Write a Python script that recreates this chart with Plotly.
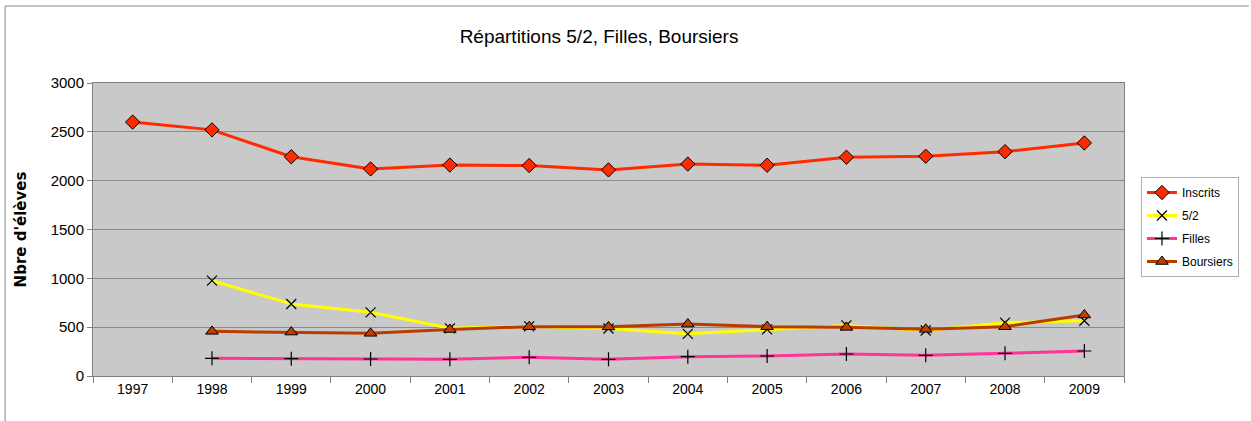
import plotly.graph_objects as go

years = ["1997", "1998", "1999", "2000", "2001", "2002", "2003", "2004", "2005", "2006", "2007", "2008", "2009"]
inscrits = [2600, 2520, 2245, 2120, 2160, 2155, 2110, 2170, 2158, 2240, 2250, 2297, 2386]
cinq_demi = [None, 976, 737, 652, 488, 508, 486, 432, 478, 518, 466, 546, 566]
filles = [None, 181, 177, 174, 171, 191, 171, 198, 205, 225, 212, 232, 256]
boursiers = [None, 457, 450, 437, 476, 505, 503, 532, 505, 498, 478, 505, 625]

FONT = "Liberation Sans"

# body margin is removed by post_script, so the figure starts at the window origin
OX, OY = 0, 0
W, H = 1251, 421
# desired plot area in window pixels
L, R, T, B = 93, 1126, 83, 376


def px(x):
    return (x - L) / (R - L)


def py(y):
    return (B - y) / (B - T)


fig = go.Figure()
fig.add_trace(go.Scatter(x=years, y=inscrits, name="Inscrits", mode="lines+markers",
                         legendgroup="a",
                         line=dict(color="#ff2a00", width=3),
                         marker=dict(symbol="diamond", size=11, color="#ff2a00",
                                     line=dict(color="black", width=1))))
fig.add_trace(go.Scatter(x=years, y=cinq_demi, name="5/2", mode="lines+markers",
                         legendgroup="b",
                         line=dict(color="#ffff00", width=3),
                         marker=dict(symbol="x-thin", size=10, color="black",
                                     line=dict(color="black", width=1.2))))
fig.add_trace(go.Scatter(x=years, y=filles, name="Filles", mode="lines+markers",
                         legendgroup="c",
                         line=dict(color="#ff3399", width=3),
                         marker=dict(symbol="cross-thin", size=10, color="black",
                                     line=dict(color="black", width=1.2))))
fig.add_trace(go.Scatter(x=years, y=boursiers, name="Boursiers", mode="lines+markers",
                         legendgroup="d",
                         line=dict(color="#b83c00", width=3),
                         marker=dict(symbol="triangle-up", size=11, color="#c04000",
                                     line=dict(color="black", width=1))))

fig.update_layout(
    width=W, height=H,
    margin=dict(l=L - OX, r=(W + OX) - R, t=T - OY, b=(H + OY) - B),
    paper_bgcolor="white",
    plot_bgcolor="#c9c9c9",
    font=dict(family=FONT, color="black", size=14),
    title=dict(text="Répartitions 5/2, Filles, Boursiers", x=px(600), xref="paper",
               xanchor="center", y=1 - (36 - OY) / H, yref="container", yanchor="middle",
               font=dict(family=FONT, size=19, color="black")),
    showlegend=True,
    legend=dict(x=px(1143), y=py(177), xanchor="left", yanchor="top",
                bgcolor="white", bordercolor="#b0b0b0", borderwidth=1,
                font=dict(family=FONT, size=12), itemwidth=30,
                tracegroupgap=4),
    xaxis=dict(type="category", showgrid=False, showline=True, linecolor="#808080",
               linewidth=1, mirror=True, ticks="outside", tickson="boundaries",
               ticklen=6, tickcolor="#808080", tickfont=dict(size=14),
               range=[-0.5, 12.5]),
    yaxis=dict(range=[0, 3000], dtick=500, showgrid=True, gridcolor="#8c8c8c",
               gridwidth=1, showline=True, linecolor="#808080", mirror=True,
               ticks="outside", ticklen=5, tickcolor="#808080", zeroline=False,
               tickfont=dict(size=15),
               title=dict(text="<b>Nbre d'élèves</b>", font=dict(family="DejaVu Sans", size=15),
                          standoff=20)),
    shapes=[
        dict(type="line", xref="paper", yref="paper", x0=px(5), x1=px(W), y0=py(6), y1=py(6),
             line=dict(color="#b0b0b0", width=1.5)),
        dict(type="line", xref="paper", yref="paper", x0=px(5), x1=px(5), y0=py(6), y1=py(H),
             line=dict(color="#b0b0b0", width=1.5)),
    ],
)

fig.write_html("out.html", config={"displayModeBar": False},
               post_script="document.body.style.margin='0px';document.body.style.overflow='hidden';")
